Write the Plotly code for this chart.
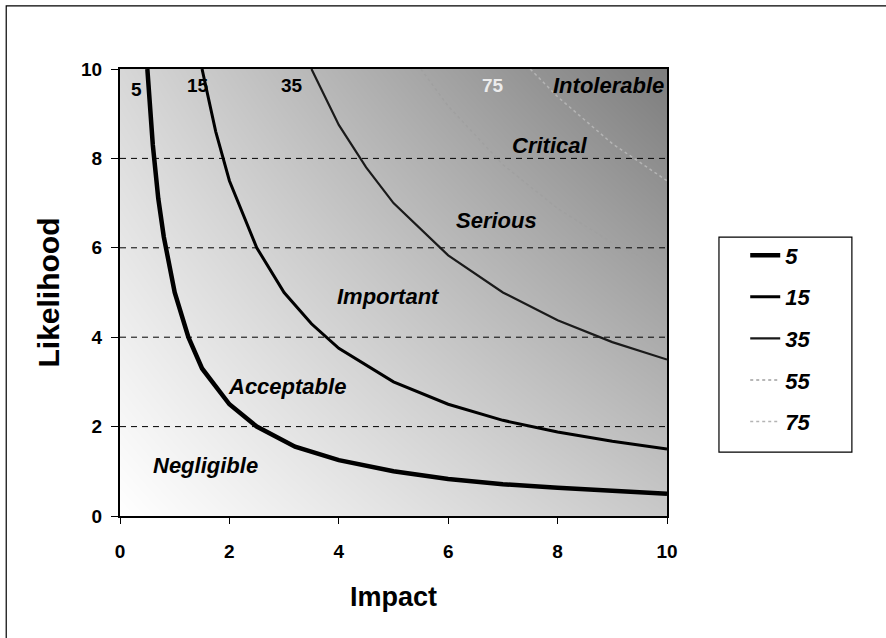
import plotly.graph_objects as go

# ---- data ----
risk_levels = ["5", "15", "35", "55", "75"]

c5_x = [0.5, 0.6, 0.7, 0.8, 1.0, 1.25, 1.5, 2.0, 2.5, 3.2, 4.0, 5.0, 6.0, 7.0, 8.0, 9.0, 10.0]
c5_y = [10.0, 8.3, 7.1, 6.25, 5.0, 4.0, 3.3, 2.5, 2.0, 1.55, 1.25, 1.0, 0.83, 0.71, 0.63, 0.56, 0.5]

c15_x = [1.5, 1.75, 2.0, 2.5, 3.0, 3.5, 4.0, 5.0, 6.0, 7.0, 8.0, 9.0, 10.0]
c15_y = [10.0, 8.6, 7.5, 6.0, 5.0, 4.3, 3.75, 3.0, 2.5, 2.14, 1.88, 1.67, 1.5]

c35_x = [3.5, 4.0, 4.5, 5.0, 6.0, 7.0, 8.0, 9.0, 10.0]
c35_y = [10.0, 8.75, 7.8, 7.0, 5.83, 5.0, 4.38, 3.89, 3.5]

c55_x = [5.5, 6.0, 7.0, 8.0, 9.0, 10.0]
c55_y = [10.0, 9.17, 7.86, 6.88, 6.11, 5.5]

c75_x = [7.5, 8.0, 9.0, 10.0]
c75_y = [10.0, 9.38, 8.33, 7.5]

curves_x = [c5_x, c15_x, c35_x, c55_x, c75_x]
curves_y = [c5_y, c15_y, c35_y, c55_y, c75_y]

zone_names = ["Negligible", "Acceptable", "Important", "Serious", "Critical", "Intolerable"]
zone_x = [1.57, 3.05, 4.9, 6.89, 7.86, 9.98]
zone_y = [1.12, 2.9, 4.92, 6.6, 8.28, 9.62]

curve_label_x = [0.31, 1.43, 3.14, 6.82]
curve_label_y = [9.55, 9.64, 9.64, 9.64]
curve_label_text = ["5", "15", "35", "75"]

tick_vals = [0, 2, 4, 6, 8, 10]
grid_vals = [2, 4, 6, 8]

# background shading at the plot corners (grey level)
shade_x = [0, 10]
shade_y = [0, 10]
shade_z = [[255, 200], [215, 125]]

# ---- styles ----
line_colors = ["black", "black", "#1a1a1a", "#a0a0a0", "#b4b4b4"]
line_widths = [4.5, 3, 2.2, 1.5, 1.5]
line_dash = ["solid", "solid", "solid", "dot", "dot"]
FONT = "Arial, Liberation Sans, sans-serif"

fig = go.Figure()

fig.add_trace(go.Heatmap(
    x=shade_x, y=shade_y, z=shade_z, zsmooth="best", zmin=125, zmax=255,
    colorscale=[[0, "rgb(125,125,125)"], [1, "rgb(255,255,255)"]],
    showscale=False, hoverinfo="skip", showlegend=False,
))

for g in grid_vals:
    fig.add_trace(go.Scatter(
        x=[0, 10], y=[g, g], mode="lines",
        line=dict(color="black", width=1, dash="6px,5px"),
        showlegend=False, hoverinfo="skip",
    ))

for i, name in enumerate(risk_levels):
    fig.add_trace(go.Scatter(
        x=curves_x[i], y=curves_y[i], mode="lines", name=name,
        legendgroup=name,
        line=dict(color=line_colors[i], width=line_widths[i], dash=line_dash[i]),
        hoverinfo="skip",
    ))

for t, x, y in zip(zone_names, zone_x, zone_y):
    anchor = "right" if t == "Intolerable" else "center"
    fig.add_annotation(x=x, y=y, text=f"<b><i>{t}</i></b>", showarrow=False,
                       xanchor=anchor,
                       font=dict(family=FONT, size=22, color="black"))

for t, x, y in zip(curve_label_text, curve_label_x, curve_label_y):
    col = "#ececec" if t == "75" else "black"
    fig.add_annotation(x=x, y=y, text=f"<b>{t}</b>", showarrow=False,
                       font=dict(family=FONT, size=19, color=col))

# outer frame of the whole chart
fig.add_shape(type="rect", xref="paper", yref="paper",
              x0=-0.208, x1=1.45, y0=-0.4, y1=1.141,
              line=dict(color="black", width=1.2), layer="above")

# legend box
fig.add_shape(type="rect", xref="paper", yref="paper",
              x0=1.095, x1=1.338, y0=0.143, y1=0.624,
              line=dict(color="black", width=1.2), fillcolor="white", layer="below")

fig.update_xaxes(
    range=[0, 10], tickvals=tick_vals, ticktext=[f"<b>{v}</b>" for v in tick_vals],
    showgrid=False, zeroline=False,
    showline=True, linecolor="black", linewidth=2, mirror=True,
    ticks="outside", ticklen=6, tickcolor="black", tickwidth=1,
    ticklabelstandoff=11,
    tickfont=dict(family=FONT, size=19, color="black"),
    title=dict(text="<b>Impact</b>", font=dict(family=FONT, size=27, color="black"), standoff=26),
)
fig.update_yaxes(
    range=[0, 10], tickvals=tick_vals, ticktext=[f"<b>{v}</b>" for v in tick_vals],
    showgrid=False, zeroline=False,
    showline=True, linecolor="black", linewidth=2, mirror=True,
    ticks="outside", ticklen=7, tickcolor="black", tickwidth=1,
    ticklabelstandoff=5,
    tickfont=dict(family=FONT, size=19, color="black"),
    title=dict(text="<b>Likelihood</b>", font=dict(family=FONT, size=30, color="black"), standoff=13),
)

fig.update_layout(
    width=886, height=638,
    margin=dict(l=120, r=219, t=69, b=122),
    paper_bgcolor="white", plot_bgcolor="white",
    showlegend=True,
    legend=dict(
        x=1.143, y=0.63, xanchor="left", yanchor="top",
        bgcolor="rgba(0,0,0,0)", borderwidth=0,
        font=dict(family=FONT, size=22, color="black", weight="bold", style="italic"),
        tracegroupgap=10,
    ),
)

fig.write_html("out.html")
